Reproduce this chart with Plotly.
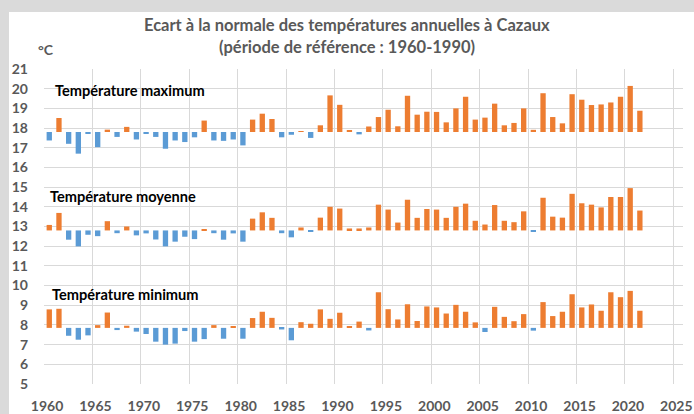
import plotly.graph_objects as go

years = list(range(1960, 2022))

tmax = [17.37, 18.51, 17.20, 16.70, 17.70, 17.03, 17.92, 17.55, 18.06, 17.42,
        17.72, 17.55, 16.95, 17.37, 17.29, 17.53, 18.38, 17.37, 17.35, 17.42,
        17.12, 18.43, 18.73, 18.46, 17.53, 17.66, 17.84, 17.50, 18.14, 19.66,
        19.18, 17.87, 17.68, 18.08, 18.56, 18.93, 18.09, 19.64, 18.68, 18.83,
        18.82, 18.29, 19.00, 19.59, 18.43, 18.53, 19.24, 18.14, 18.26, 19.00,
        17.91, 19.77, 18.56, 18.24, 19.72, 19.44, 19.17, 19.20, 19.30, 19.59,
        20.14, 18.88]

tmoy = [13.08, 13.69, 12.33, 11.99, 12.58, 12.51, 13.27, 12.66, 13.00, 12.55,
        12.65, 12.34, 11.99, 12.23, 12.48, 12.36, 12.85, 12.66, 12.33, 12.65,
        12.23, 13.40, 13.72, 13.44, 12.66, 12.45, 12.95, 12.75, 13.45, 14.00,
        13.91, 12.90, 12.90, 12.95, 14.11, 13.86, 13.20, 14.36, 13.44, 13.89,
        13.86, 13.44, 14.00, 14.16, 13.29, 13.10, 14.09, 13.29, 13.22, 13.77,
        12.74, 14.46, 13.50, 13.45, 14.66, 14.18, 14.11, 13.97, 14.50, 14.50,
        14.95, 13.81]

tmin = [8.79, 8.82, 7.45, 7.25, 7.47, 7.99, 8.63, 7.74, 7.96, 7.66,
        7.54, 7.15, 7.00, 7.05, 7.69, 7.15, 7.28, 7.99, 7.30, 7.90,
        7.30, 8.35, 8.67, 8.36, 7.77, 7.22, 8.14, 8.06, 8.79, 8.31,
        8.62, 7.93, 8.17, 7.72, 9.66, 8.80, 8.28, 9.05, 8.20, 8.94,
        8.89, 8.58, 9.02, 8.67, 8.13, 7.64, 8.92, 8.41, 8.19, 8.55,
        7.71, 9.16, 8.45, 8.67, 9.56, 8.89, 9.04, 8.72, 9.66, 9.41,
        9.73, 8.72]

normals = {"max": 17.80, "moy": 12.80, "min": 7.85}
series = [("Température maximum", tmax, normals["max"]),
          ("Température moyenne", tmoy, normals["moy"]),
          ("Température minimum", tmin, normals["min"])]

xticks = list(range(1960, 2026, 5))
yticks = list(range(5, 22))

ORANGE = "#ED7D31"
BLUE = "#5B9BD5"
GRID = "#D9D9D9"
TXT = "#595959"
FONT = "Lato"

L, R, T, B = 44, 11, 69, 30
PW, PH = 694 - L - R, 414 - T - B


def px(xp):
    return (xp - L) / PW


def py(yp):
    return (414 - B - yp) / PH


fig = go.Figure()
for name, vals, base in series:
    fig.add_trace(go.Bar(
        x=years,
        y=[v - base for v in vals],
        base=base,
        width=0.55,
        offset=0.27,
        marker=dict(color=[ORANGE if v >= base else BLUE for v in vals], line_width=0),
        name=name,
        showlegend=False,
        hoverinfo="skip",
    ))

labels = [("Température maximum", 53, 90),
          ("Température moyenne", 48, 196),
          ("Température minimum", 50, 294)]
annotations = []
for text, xp, yp in labels:
    annotations.append(dict(text="<b>%s</b>" % text, x=px(xp), y=py(yp), xref="paper", yref="paper",
                            xanchor="left", yanchor="middle", showarrow=False,
                            font=dict(family=FONT, size=14.6, color="#000000")))

annotations += [
    dict(text="<b>Ecart à la normale des températures annuelles à Cazaux</b>", x=px(347), y=py(25),
         xref="paper", yref="paper", xanchor="center", yanchor="middle", showarrow=False,
         font=dict(family=FONT, size=16.5, color=TXT)),
    dict(text="<b>(période de référence : 1960-1990)</b>", x=px(347), y=py(47),
         xref="paper", yref="paper", xanchor="center", yanchor="middle", showarrow=False,
         font=dict(family=FONT, size=16.5, color=TXT)),
    dict(text="<b>°C</b>", x=px(36), y=py(49),
         xref="paper", yref="paper", xanchor="left", yanchor="middle", showarrow=False,
         font=dict(family=FONT, size=14, color=TXT)),
]

fig.update_layout(
    width=694, height=414,
    margin=dict(l=L, r=R, t=T, b=B, pad=0, autoexpand=False),
    paper_bgcolor="#DADADA",
    plot_bgcolor="#FFFFFF",
    barmode="overlay",
    hovermode=False,
    annotations=annotations,
    shapes=[dict(type="rect", xref="paper", yref="paper", x0=px(9), x1=px(700),
                 y0=py(420), y1=py(12), fillcolor="#FFFFFF", line_width=0, layer="below")],
    xaxis=dict(range=[1960, 2026], tickvals=xticks, ticktext=["<b>%d</b>" % t for t in xticks],
               showgrid=True, gridcolor=GRID, gridwidth=1, zeroline=False, showline=False,
               ticks="", ticklabelstandoff=12, ticklabelshift=3, automargin=False,
               tickfont=dict(family=FONT, size=14, color=TXT)),
    yaxis=dict(range=[5, 21], tickvals=yticks, ticktext=["<b>%d</b>" % t for t in yticks],
               showgrid=True, gridcolor=GRID, gridwidth=1, zeroline=False, showline=False,
               ticks="", ticklabelstandoff=15, automargin=False,
               tickfont=dict(family=FONT, size=14, color=TXT)),
)

fig.write_html("out.html", config={"displayModeBar": False},
               post_script="document.body.style.margin='0';document.body.style.overflow='hidden';")
